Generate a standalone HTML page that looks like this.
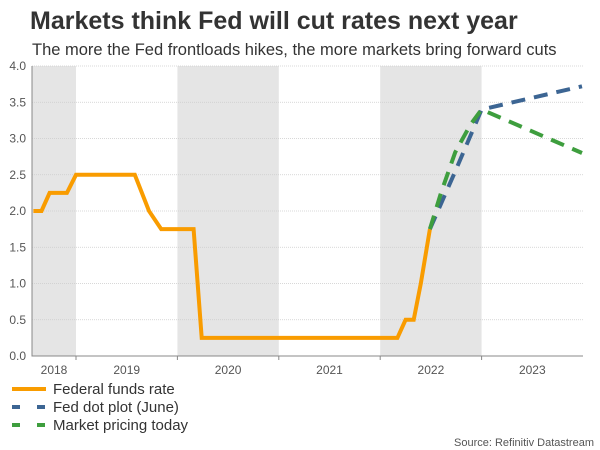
<!DOCTYPE html>
<html><head><meta charset="utf-8"><style>
body{margin:0;background:#fff;font-family:"Liberation Sans",sans-serif;}
svg{display:block}
</style></head><body>
<svg id="chart" width="600" height="450" xmlns="http://www.w3.org/2000/svg">
<text x="30" y="29" font-size="25" font-weight="bold" fill="#333">Markets think Fed will cut rates next year</text>
<text x="32" y="55" font-size="16.5" fill="#333">The more the Fed frontloads hikes, the more markets bring forward cuts</text>
<g id="bands"></g><g id="grid"></g><g id="axes"></g><g id="series"></g>
<g>
<line x1="12" y1="389" x2="46" y2="389" stroke="#f99c00" stroke-width="4"/>
<text x="53" y="394" font-size="15" fill="#333">Federal funds rate</text>
<line x1="12" y1="407" x2="46" y2="407" stroke="#3c6593" stroke-width="4" stroke-dasharray="8 17"/>
<text x="53" y="412" font-size="15" fill="#333">Fed dot plot (June)</text>
<line x1="12" y1="425" x2="46" y2="425" stroke="#3e9e3e" stroke-width="4" stroke-dasharray="8 17"/>
<text x="53" y="430" font-size="15" fill="#333">Market pricing today</text>
</g>
<text x="594" y="446" font-size="11" fill="#555" text-anchor="end">Source: Refinitiv Datastream</text>
</svg>
<script>
const yTicks=[0,0.5,1,1.5,2,2.5,3,3.5,4];
const years=[2018,2019,2020,2021,2022,2023];
const fedT=[2018.58,2018.66,2018.74,2018.91,2019.0,2019.58,2019.72,2019.84,2020.16,2020.24,2022.17,2022.25,2022.33,2022.40,2022.49];
const fedV=[2.0,2.0,2.25,2.25,2.5,2.5,2.0,1.75,1.75,0.25,0.25,0.5,0.5,1.0,1.75];
const dotT=[2022.49,2022.75,2023.0,2023.99];
const dotV=[1.75,2.58,3.4,3.72];
const mktT=[2022.49,2022.6,2022.74,2022.89,2023.0,2023.99];
const mktV=[1.75,2.25,2.81,3.19,3.4,2.8];
const NS="http://www.w3.org/2000/svg";
const X0=32,X1=583,Y0=356,Y1=66;
const xs=t=>76+(t-2019)*101.4;
const ys=v=>Y0-(v-0)/(4-0)*(Y0-Y1);
function mk(tag,attrs,parent){const e=document.createElementNS(NS,tag);for(const k in attrs)e.setAttribute(k,attrs[k]);document.getElementById(parent).appendChild(e);return e;}
years.forEach((y,i)=>{if(i%2===0){const a=Math.max(X0,xs(y)),b=Math.min(X1,xs(y+1));
const r=mk('rect',{x:a,y:Y1,width:b-a,height:Y0-Y1,fill:'#e5e5e5'},'bands');

}
const cx=(Math.max(X0,xs(y))+Math.min(X1,xs(y+1)))/2;
const t=mk('text',{x:cx,y:374,'font-size':12,fill:'#555','text-anchor':'middle'},'axes');t.textContent=y;


if(y>2018){const tk=mk('line',{x1:xs(y),x2:xs(y),y1:Y0,y2:Y0+4,stroke:'#888'},'axes');

}});
yTicks.forEach(v=>{const g=mk('line',{x1:X0,x2:X1,y1:ys(v),y2:ys(v),stroke:'#ccc','stroke-dasharray':'1 1','stroke-width':0.7},'grid');


const t=mk('text',{x:26,y:ys(v)+4,'font-size':12,fill:'#555','text-anchor':'end'},'axes');t.textContent=v.toFixed(1);

});
const ax=mk('path',{d:`M${X0} ${Y1}V${Y0}H${X1}`,fill:'none',stroke:'#888'},'axes');


function line(T,V,color,dash,name){const d=T.map((t,i)=>(i?'L':'M')+xs(t).toFixed(1)+' '+ys(V[i]).toFixed(1)).join('');
const p=mk('path',{d:d,fill:'none',stroke:color,'stroke-width':4,'stroke-linejoin':'miter'},'series');if(dash)p.setAttribute('stroke-dasharray',dash);

}
line(fedT,fedV,'#f99c00',null,'fed-funds-line');
line(dotT,dotV,'#3c6593','14 9','dot-plot-line');
line(mktT,mktV,'#3e9e3e','14 9','market-pricing-line');
</script>
</body></html>
